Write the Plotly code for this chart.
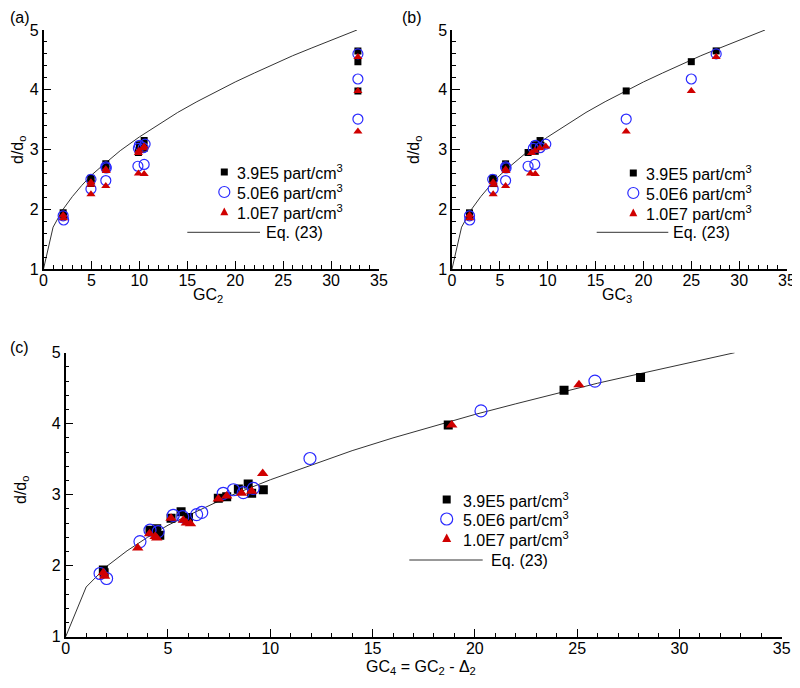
import plotly.graph_objects as go

# the page puts the figure 8px in from the top-left corner
OFF = 8
W, H = 800 - OFF, 688 - OFF

# Eq. (23) curve
eq_x = [0, 1, 2, 3, 4, 5, 6, 8, 10, 12, 14, 16, 18, 20, 22, 24, 26, 28, 30, 32.7]
eq_y = [1.0, 1.70, 1.99, 2.21, 2.40, 2.57, 2.71, 2.98, 3.21, 3.42, 3.62, 3.80,
        3.97, 4.13, 4.28, 4.43, 4.57, 4.70, 4.83, 5.00]

# 3.9E5 part/cm3
sq_gc2 = [2.05, 2.1, 4.95, 4.95, 4.95, 6.5, 6.5, 6.5, 9.9, 9.9, 10.0, 10.5, 10.5, 10.4, 32.8, 32.8, 32.8]
sq_gc3 = [1.83, 1.85, 4.25, 4.3, 4.35, 5.6, 5.6, 5.65, 7.95, 8.7, 8.65, 9.2, 8.75, 9.3, 18.2, 25.0, 27.6]
sq_gc4 = [1.84, 1.88, 4.12, 4.45, 4.6, 5.15, 5.64, 6.0, 7.46, 7.87, 8.44, 8.92, 9.09, 9.66, 18.7, 24.36, 28.1]
sq_d = [1.94, 1.90, 2.50, 2.52, 2.43, 2.67, 2.76, 2.68, 2.95, 2.97, 3.08, 3.15, 3.02, 3.07, 3.98, 4.47, 4.65]

# 5.0E6 part/cm3
ci_gc2 = [2.05, 2.1, 4.95, 4.95, 6.5, 6.5, 6.55, 9.85, 10.5, 9.9, 10.0, 10.4, 10.6, 32.8, 32.8, 32.8]
ci_gc3 = [1.83, 1.85, 4.25, 4.3, 5.6, 5.6, 5.65, 7.95, 8.65, 8.5, 8.7, 9.2, 9.8, 18.2, 25.0, 27.6]
ci_gc4 = [1.68, 2.0, 4.12, 3.63, 4.52, 5.26, 5.72, 6.4, 6.65, 7.7, 8.2, 8.68, 9.17, 11.94, 20.3, 25.87]
ci_d = [1.89, 1.82, 2.50, 2.34, 2.48, 2.71, 2.69, 2.72, 2.75, 3.02, 3.07, 3.03, 3.09, 3.51, 4.18, 4.60]

# 1.0E7 part/cm3
tr_gc2 = [2.05, 2.1, 4.95, 4.95, 4.95, 6.5, 6.5, 6.55, 9.9, 10.5, 9.9, 9.95, 10.4, 10.5, 32.8, 32.8, 32.8]
tr_gc3 = [1.83, 1.85, 4.3, 4.3, 4.35, 5.6, 5.6, 5.65, 8.2, 8.7, 8.3, 8.65, 9.17, 9.8, 18.2, 25.0, 27.6]
tr_gc4 = [1.84, 1.9, 3.52, 4.1, 4.37, 4.45, 5.15, 5.75, 5.9, 6.1, 7.46, 7.87, 8.6, 9.09, 9.63, 18.87, 25.09]
tr_d = [1.90, 1.85, 2.25, 2.45, 2.41, 2.39, 2.67, 2.64, 2.60, 2.59, 2.94, 2.98, 3.02, 3.05, 3.30, 3.98, 4.55]

labels = ["3.9E5 part/cm<sup>3</sup>", "5.0E6 part/cm<sup>3</sup>", "1.0E7 part/cm<sup>3</sup>"]
BLACK = "#000000"
BLUE = "#2a2aff"
RED = "#d00000"
FONT = "Liberation Sans, Arial, sans-serif"


# page pixels -> paper fractions
def px(x):
    return (x - OFF) / W


def py(y):
    return 1 - (y - OFF) / H


fig = go.Figure()

panels = [
    ("x", "y", sq_gc2, ci_gc2, tr_gc2, (7, 10, 8)),
    ("x2", "y2", sq_gc3, ci_gc3, tr_gc3, (7, 10, 8)),
    ("x3", "y3", sq_gc4, ci_gc4, tr_gc4, (9, 12, 10)),
]

for xa, ya, gsq, gci, gtr, (s1, s2, s3) in panels:
    fig.add_trace(go.Scatter(x=eq_x, y=eq_y, mode="lines", xaxis=xa, yaxis=ya,
                             line=dict(color="#333333", width=1), showlegend=False))
    fig.add_trace(go.Scatter(x=gsq, y=sq_d, mode="markers", xaxis=xa, yaxis=ya,
                             marker=dict(symbol="square", size=s1, color=BLACK), showlegend=False))
    fig.add_trace(go.Scatter(x=gci, y=ci_d, mode="markers", xaxis=xa, yaxis=ya,
                             marker=dict(symbol="circle-open", size=s2, color=BLUE,
                                         line=dict(width=1.2, color=BLUE)), showlegend=False))
    fig.add_trace(go.Scatter(x=gtr, y=tr_d, mode="markers", xaxis=xa, yaxis=ya,
                             marker=dict(symbol="triangle-up", size=s3, color=RED), showlegend=False))

xstyle = dict(range=[0, 35], dtick=5, tick0=0, ticks="inside", ticklen=8, tickwidth=1.2,
              minor=dict(ticks="inside", ticklen=4, dtick=1, tickcolor=BLACK),
              showline=True, linecolor=BLACK, linewidth=1.5, showgrid=False, zeroline=False,
              tickcolor=BLACK, tickfont=dict(size=16, color=BLACK), automargin=False,
              ticklabelstandoff=-4)
ystyle = dict(range=[1, 5], dtick=1, tick0=1, ticks="inside", ticklen=8, tickwidth=1.2,
              minor=dict(ticks="inside", ticklen=4, dtick=0.2, tickcolor=BLACK),
              showline=True, linecolor=BLACK, linewidth=1.5, showgrid=False, zeroline=False,
              tickcolor=BLACK, tickfont=dict(size=16, color=BLACK), automargin=False)

fig.update_layout(
    width=W, height=H,
    margin=dict(l=0, r=0, t=0, b=0),
    paper_bgcolor="white", plot_bgcolor="white",
    font=dict(family=FONT, size=16, color=BLACK),
    xaxis=dict(domain=[px(43.5), px(379)], anchor="y", **xstyle),
    yaxis=dict(domain=[py(269), py(30)], anchor="x", **ystyle),
    xaxis2=dict(domain=[px(452), px(787)], anchor="y2", **xstyle),
    yaxis2=dict(domain=[py(269), py(30)], anchor="x2", **ystyle),
    xaxis3=dict(domain=[px(65.7), px(781.7)], anchor="y3", **xstyle),
    yaxis3=dict(domain=[py(636.7), py(352.7)], anchor="x3", **ystyle),
)

annotations = []
shapes = []


def text(x, y, s, anchor="center", angle=0):
    annotations.append(dict(x=px(x), y=py(y), xref="paper", yref="paper", text=s,
                            showarrow=False, xanchor=anchor, yanchor="middle",
                            textangle=angle, font=dict(size=16, color=BLACK)))


# panel labels and axis titles
text(8, 18, "(a)", "left")
text(400, 18, "(b)", "left")
text(8, 347, "(c)", "left")
text(18, 150, "d/d<sub>o</sub>", angle=-90)
text(414, 150, "d/d<sub>o</sub>", angle=-90)
text(21, 490, "d/d<sub>o</sub>", angle=-90)
text(208, 295, "GC<sub>2</sub>")
text(617, 295, "GC<sub>3</sub>")
text(421, 667, "GC<sub>4</sub> = GC<sub>2</sub> - Δ<sub>2</sub>")


def legend(mx, ty, tx, y0, lx0, lx1, ltx, ly, sizes):
    ss, cs, ts = sizes
    # square
    shapes.append(dict(type="rect", xref="paper", yref="paper",
                       x0=px(mx - ss / 2), x1=px(mx + ss / 2), y0=py(y0 + ss / 2), y1=py(y0 - ss / 2),
                       fillcolor=BLACK, line=dict(width=0)))
    # circle
    y1 = y0 + ty
    shapes.append(dict(type="circle", xref="paper", yref="paper",
                       x0=px(mx - cs / 2), x1=px(mx + cs / 2), y0=py(y1 + cs / 2), y1=py(y1 - cs / 2),
                       line=dict(color=BLUE, width=1.2)))
    # triangle
    y2 = y0 + 2 * ty
    path = "M {} {} L {} {} L {} {} Z".format(
        px(mx), py(y2 - ts * 0.55), px(mx - ts / 2), py(y2 + ts * 0.4), px(mx + ts / 2), py(y2 + ts * 0.4))
    shapes.append(dict(type="path", xref="paper", yref="paper", path=path,
                       fillcolor=RED, line=dict(width=0)))
    for i, lab in enumerate(labels):
        text(tx, y0 + i * ty, lab, "left")
    shapes.append(dict(type="line", xref="paper", yref="paper",
                       x0=px(lx0), x1=px(lx1), y0=py(ly), y1=py(ly),
                       line=dict(color="#333333", width=1)))
    text(ltx, ly, "Eq. (23)", "left")


legend(224.3, 20, 235, 172, 187.3, 260, 264, 232.3, (7, 11, 8))
legend(633.3, 20, 644, 173, 596.7, 668.3, 671, 232.3, (7, 11, 8))
legend(446.7, 19.5, 461, 499.5, 409.3, 482.7, 489, 560, (8, 12, 9))

fig.update_layout(annotations=annotations, shapes=shapes)

fig.write_html("out.html")
